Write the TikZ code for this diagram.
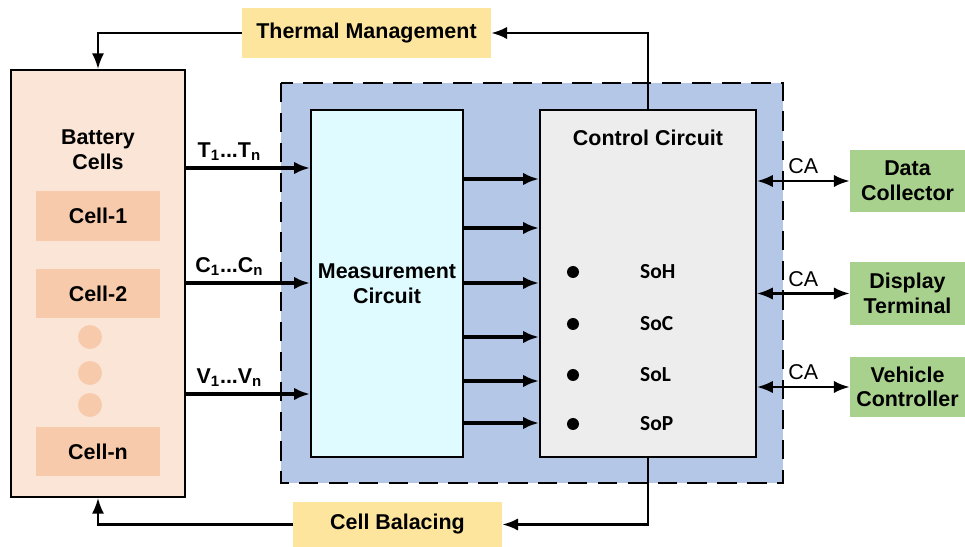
\documentclass[tikz,border=0pt]{standalone}
\usepackage{fontspec}
\setmainfont{Liberation Sans}
\newfontfamily\soFont{Carlito}
\usetikzlibrary{arrows.meta}
\definecolor{cellbg}{HTML}{FBE5D6}
\definecolor{cellfg}{HTML}{F7CAAB}
\definecolor{ctlyel}{HTML}{FDE59E}
\definecolor{bmsblue}{HTML}{B4C7E7}
\definecolor{meascyan}{HTML}{DFFBFF}
\definecolor{ctrlgray}{HTML}{EDEDED}
\definecolor{extgreen}{HTML}{A9D18E}

\begin{document}
\begin{tikzpicture}[x=0.02cm, y=-0.02cm, >={Latex[length=9pt,width=7pt]},
  every node/.style={align=center, font=\fontsize{12.2}{14}\selectfont\bfseries},
  box/.style={draw, line width=1.1pt, inner sep=0pt},
  tag/.style={fill=#1, inner sep=0pt},
  sig/.style={->, line width=2pt},
  lnk/.style={->, line width=1.4pt},
  ca/.style={<->, line width=1.4pt},
  dot/.style={circle, fill=#1, inner sep=0pt}]
\useasboundingbox (0,0) rectangle (965,547);
% BMS block
\draw[fill=bmsblue, line width=1.1pt, dash pattern=on 11pt off 6pt] (281,83) rectangle (783,483);
\node (meas) [box, fill=meascyan, minimum width=3.04cm, minimum height=6.94cm] at (387,283.5) {Measurement\\Circuit};
\node (ctrl) [box, fill=ctrlgray, minimum width=4.32cm, minimum height=6.94cm] at (648,283.5) {};
\node (ctrllbl) at (648,138) {Control Circuit};
% battery pack
\node (batt) [box, fill=cellbg, minimum width=3.48cm, minimum height=8.54cm] at (98,283.5) {};
\node (battlbl) at (98,150) {Battery\\Cells};
\node (c1) [tag=cellfg, minimum width=2.48cm, minimum height=1.0cm] at (98,216) {Cell-1};
\node (c2) [tag=cellfg, minimum width=2.48cm, minimum height=0.98cm] at (98,293.5) {Cell-2};
\node (cn) [tag=cellfg, minimum width=2.48cm, minimum height=0.98cm] at (98,451.5) {Cell-n};
\foreach \y [count=\i] in {337,373,405}
  \node (gap\i) [dot=cellfg, minimum size=0.48cm] at (90,\y) {};
% side blocks
\node (therm) [tag=ctlyel, minimum width=4.98cm, minimum height=1.0cm] at (366.5,33) {Thermal Management};
\node (bal) [tag=ctlyel, minimum width=4.18cm, minimum height=0.9cm] at (397.5,524.5) {Cell Balacing};
\node (data) [tag=extgreen, minimum width=2.3cm, minimum height=1.24cm] at (907.5,181) {Data\\Collector};
\node (disp) [tag=extgreen, minimum width=2.3cm, minimum height=1.26cm] at (907.5,293.5) {Display\\Terminal};
\node (veh) [tag=extgreen, minimum width=2.3cm, minimum height=1.2cm] at (907.5,387) {Vehicle\\Controller};
% states
\foreach \y/\s [count=\i] in {272/SoH,324/SoC,375/SoL,424/SoP} {
  \node (st\i) [dot=black, minimum size=0.24cm] at (573,\y) {};
  \node (sl\i) [anchor=west, font=\fontsize{12.2}{14}\selectfont\soFont\bfseries] at (634,\y) {\s};
}
% measured quantities
\draw[sig] (batt.east |- 0,168) -- node[above, pos=.35] {T\textsubscript{1}...T\textsubscript{n}} (meas.west |- 0,168);
\draw[sig] (batt.east |- 0,283) -- node[above, pos=.35] {C\textsubscript{1}...C\textsubscript{n}} (meas.west |- 0,283);
\draw[sig] (batt.east |- 0,394) -- node[above, pos=.35] {V\textsubscript{1}...V\textsubscript{n}} (meas.west |- 0,394);
\foreach \y in {179,228,283,337,381,423}
  \draw[sig] (meas.east |- 0,\y) -- (ctrl.west |- 0,\y);
% feedback
\draw[lnk] (ctrl.north) |- (therm.east);
\draw[lnk] (therm.west) -| (batt.north);
\draw[lnk] (ctrl.south) |- (bal.east);
\draw[lnk] (bal.west) -| (batt.south);
% communication
\draw[ca] (ctrl.east |- data.west) -- node[above, font=\fontsize{12.2}{14}\selectfont] {CA} (data.west);
\draw[ca] (ctrl.east |- disp.west) -- node[above, font=\fontsize{12.2}{14}\selectfont] {CA} (disp.west);
\draw[ca] (ctrl.east |- veh.west) -- node[above, font=\fontsize{12.2}{14}\selectfont] {CA} (veh.west);
\end{tikzpicture}
\end{document}
